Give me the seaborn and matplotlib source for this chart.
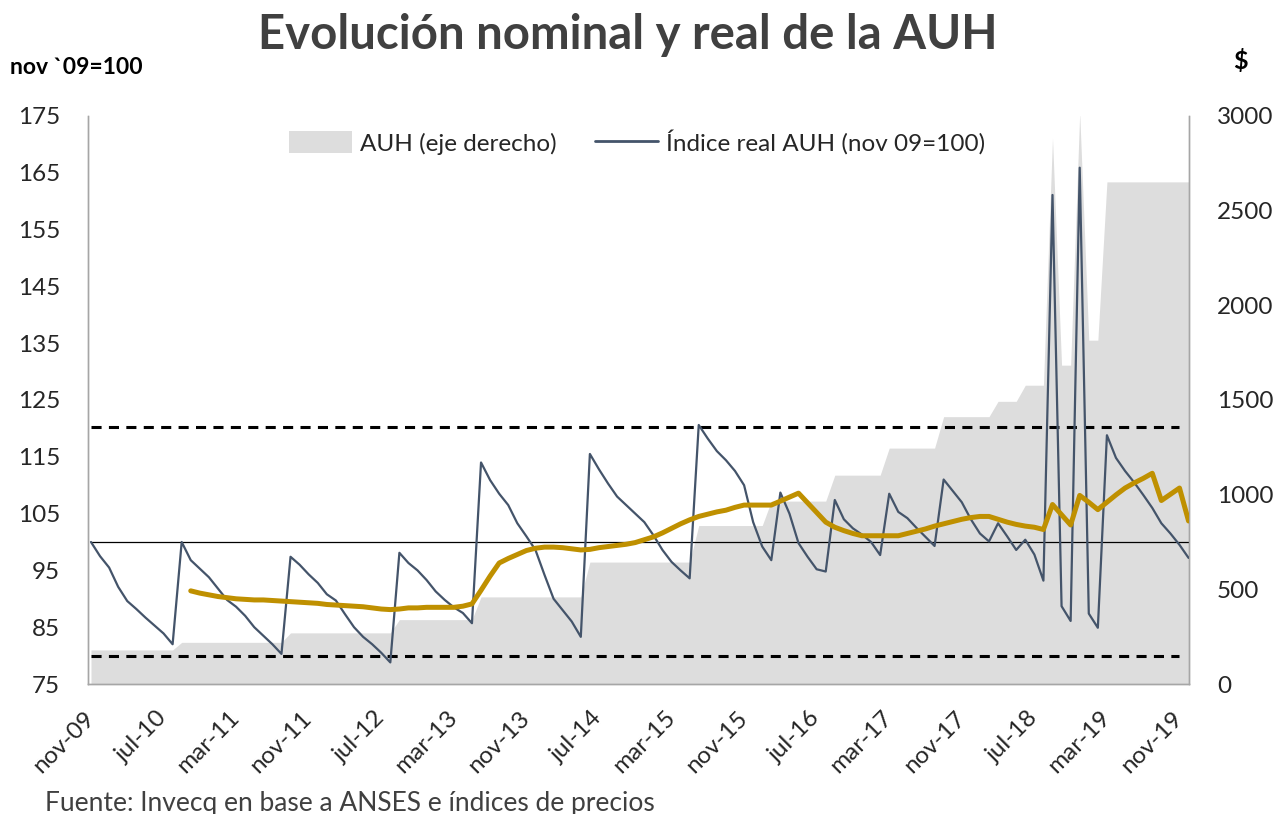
import numpy as np
import pandas as pd
import matplotlib
matplotlib.use("Agg")
import matplotlib.pyplot as plt
import seaborn as sns
from matplotlib.patches import Patch
from matplotlib.lines import Line2D

# ---------------- data (monthly, nov-09 ... dec-19) ----------------
tick_labels = ["nov-09", "jul-10", "mar-11", "nov-11", "jul-12", "mar-13",
               "nov-13", "jul-14", "mar-15", "nov-15", "jul-16", "mar-17",
               "nov-17", "jul-18", "mar-19", "nov-19"]

# AUH nominal ($, right axis)
auh = [180, 180, 180, 180, 180, 180, 180, 180, 180, 180,
       220, 220, 220, 220, 220, 220, 220, 220, 220, 220, 220, 220,
       270, 270, 270, 270, 270, 270, 270, 270, 270, 270, 270, 270,
       340, 340, 340, 340, 340, 340, 340, 340, 340,
       460, 460, 460, 460, 460, 460, 460, 460, 460, 460, 460, 460,
       644, 644, 644, 644, 644, 644, 644, 644, 644, 644, 644, 644,
       837, 837, 837, 837, 837, 837, 837, 837,
       966, 966, 966, 966, 966, 966, 966,
       1103, 1103, 1103, 1103, 1103, 1103,
       1246, 1246, 1246, 1246, 1246, 1246,
       1412, 1412, 1412, 1412, 1412, 1412,
       1493, 1493, 1493,
       1578, 1578, 1578,
       2884,
       1684, 1684,
       3016,
       1816, 1816,
       2652, 2652, 2652, 2652, 2652, 2652, 2652, 2652, 2652, 2652]

# Real AUH index (nov 09 = 100, left axis)
real_index = [100.0, 97.5, 95.5, 92.1, 89.6, 88.2, 86.7, 85.3, 83.9, 82.0,
              100.0, 96.8, 95.3, 93.8, 91.8, 89.8, 88.6, 87.0, 85.0, 83.5, 82.0, 80.3,
              97.4, 96.0, 94.3, 92.8, 90.8, 89.7, 87.3, 85.0, 83.3, 82.0, 80.5, 78.8,
              98.1, 96.3, 95.0, 93.3, 91.3, 89.8, 88.5, 87.5, 85.7,
              114.0, 110.9, 108.5, 106.5, 103.3, 101.0, 98.6, 94.2, 90.0, 88.0, 86.0, 83.3,
              115.5, 112.8, 110.3, 108.0, 106.5, 105.0, 103.5, 101.2, 98.6, 96.5, 95.0, 93.6,
              120.6, 118.2, 116.0, 114.4, 112.5, 110.0, 103.5, 99.2, 96.8,
              108.7, 105.0, 99.8, 97.4, 95.2, 94.8,
              107.4, 104.0, 102.4, 101.3, 100.0, 97.7,
              108.5, 105.3, 104.2, 102.5, 100.9, 99.3,
              111.0, 109.0, 107.0, 104.0, 101.5, 100.1,
              103.3, 101.0, 98.6,
              100.4, 97.8, 93.2,
              161.1, 88.7, 86.1,
              165.9, 87.4, 84.9,
              118.8, 114.8, 112.5, 110.5, 108.3, 106.0, 103.3, 101.5, 99.5, 97.2]

# 12-month average of the real index (starts oct-10)
real_avg = [91.4, 91.0, 90.7, 90.4, 90.2, 90.0, 89.9, 89.8, 89.8, 89.7,
            89.6, 89.5, 89.4, 89.3, 89.2, 89.0, 88.9, 88.8, 88.7, 88.6,
            88.4, 88.2, 88.1, 88.2, 88.4, 88.4, 88.5, 88.5, 88.5, 88.5,
            88.7, 89.1, 91.5, 94.0, 96.3, 97.1, 97.8, 98.5, 98.9, 99.1,
            99.1, 99.0, 98.8, 98.6, 98.7, 99.0, 99.2, 99.4, 99.6, 99.9,
            100.4, 100.9, 101.6, 102.4, 103.2, 103.9, 104.5, 104.9, 105.3, 105.6,
            106.1, 106.5, 106.5, 106.5, 106.5, 107.2, 107.9, 108.6, 106.9, 105.2,
            103.5, 102.6, 102.0, 101.5, 101.1, 101.1, 101.1, 101.1, 101.1, 101.5,
            101.9, 102.3, 102.8, 103.2, 103.6, 104.0, 104.3, 104.5, 104.5, 104.0,
            103.5, 103.1, 102.8, 102.6, 102.2, 106.6, 104.8, 103.0, 108.2, 107.0,
            105.7, 107.0, 108.3, 109.5, 110.4, 111.2, 112.1, 107.3, 108.4, 109.5,
            103.7]

base_level = 100
band_upper = 120.3
band_lower = 80.0

# ---------------- style ----------------
sns.set_style("white")
plt.rcParams['font.family'] = ['Lato', 'DejaVu Sans']

BLUE = "#44546A"
GOLD = "#BF9000"
GREY = "#DDDDDD"
SPINE = "#A6A6A6"

fig = plt.figure(figsize=(12.77, 8.14), dpi=100)
ax = fig.add_axes([0.0689, 0.1597, 0.8622, 0.6978])
ax2 = ax.twinx()

months = np.arange(len(real_index))
df = pd.DataFrame({"m": months, "real": real_index, "auh": auh})
avg_df = pd.DataFrame({"m": months[len(months) - len(real_avg):], "avg": real_avg})

# area (right axis)
ax2.fill_between(df["m"], 0, df["auh"], color=GREY, linewidth=0)
ax2.set_ylim(0, 3000)
ax2.set_yticks(np.arange(0, 3001, 500))

ax.set_zorder(ax2.get_zorder() + 1)
ax.patch.set_visible(False)

# reference lines
ax.hlines(base_level, months[0], months[-1], color="black", lw=0.9, zorder=2)
ax.hlines([band_upper, band_lower], months[0], months[-2], color="black",
          lw=2.2, linestyles=(0, (3.3, 2.4)), zorder=2)

sns.lineplot(data=df, x="m", y="real", ax=ax, color=BLUE, lw=1.6, zorder=3)
sns.lineplot(data=avg_df, x="m", y="avg", ax=ax, color=GOLD, lw=3.6, zorder=4)

ax.set_xlim(-0.33, len(months) - 1 + 0.05)
ax.set_ylim(75, 175)
ax.set_yticks(np.arange(75, 176, 10))
ax.set_xticks(months[::8][:len(tick_labels)])
ax.set_xticklabels(tick_labels, rotation=45, ha="right", va="center",
                   rotation_mode="anchor")
ax.set_xlabel("")
ax.set_ylabel("")
ax2.set_ylabel("")

ax.tick_params(axis="y", labelsize=17.5, length=0, pad=20, colors="#262626")
ax.tick_params(axis="x", labelsize=17.5, length=0, pad=22, colors="#262626")
ax2.tick_params(axis="y", labelsize=17.5, length=0, pad=20, colors="#262626")

for a in (ax, ax2):
    a.spines["top"].set_visible(False)
    for s in ("left", "right", "bottom"):
        a.spines[s].set_color(SPINE)
        a.spines[s].set_linewidth(1.0)

handles = [Patch(facecolor=GREY, edgecolor="none", label="AUH (eje derecho)"),
           Line2D([0], [0], color=BLUE, lw=2, label="Índice real AUH (nov 09=100)")]
ax.legend(handles=handles, loc="center", bbox_to_anchor=(0.4986, 0.954), ncol=2,
          frameon=False, fontsize=17.5, handlelength=2.6, handleheight=1.0,
          columnspacing=1.6, handletextpad=0.3, labelcolor="#262626")

fig.text(0.4918, 0.957, "Evolución nominal y real de la AUH", ha="center",
         va="center", fontsize=34, fontweight="bold", color="#404040")
fig.text(0.008, 0.9165, "nov `09=100", ha="left", va="center", fontsize=16.5,
         fontweight="bold", color="black")
fig.text(0.971, 0.925, "$", ha="center", va="center", fontsize=18,
         fontweight="bold", color="black")
fig.text(0.035, 0.013, "Fuente: Invecq en base a ANSES e índices de precios",
         ha="left", va="center", fontsize=19, color="#404040")

fig.savefig("out.png", dpi=100)
